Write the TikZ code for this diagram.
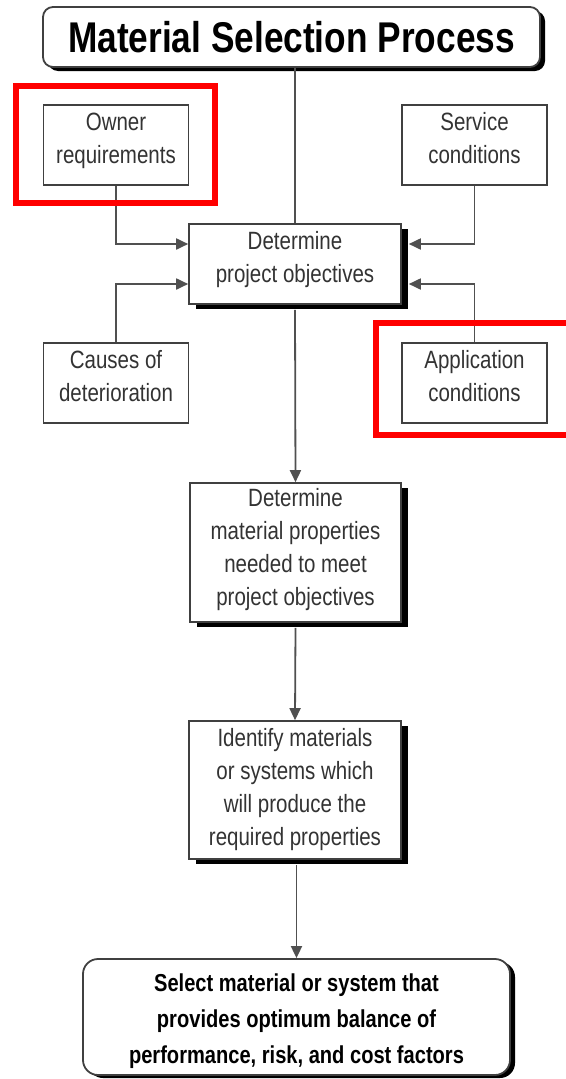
\documentclass[tikz,border=0pt]{standalone}
\usepackage{fontspec}
\setmainfont{Liberation Sans}[FakeStretch=0.82]
\usetikzlibrary{shadows,arrows.meta,calc}
\definecolor{txt}{HTML}{333333}
\definecolor{ln}{HTML}{404040}
\definecolor{cn}{HTML}{505050}
\definecolor{redmark}{HTML}{FF0000}
\newcommand\txtstack[2][0pt]{\raisebox{#1}[\height][\depth]{\begin{tabular}{@{}c@{}}#2\end{tabular}}}
\tikzset{
  sidebox/.style={draw=ln, line width=1.6pt, fill=white, align=center, text=txt,
    font=\fontsize{25}{33}\selectfont, inner sep=0pt, minimum width=145pt, minimum height=80pt},
  mainbox/.style={draw=ln, line width=1.6pt, fill=white, align=center, text=txt,
    font=\fontsize{25}{33}\selectfont, inner sep=0pt,
    drop shadow={shadow xshift=7pt, shadow yshift=-5pt, fill=black, opacity=1}},
  conn/.style={draw=cn, line width=1.8pt},
  arr/.style={conn, -{Triangle[length=12pt,width=11pt]}},
  redmarkbox/.style={draw=redmark, line width=6pt}
}
\begin{document}
\begin{tikzpicture}[x=1pt,y=-1pt]
\useasboundingbox (0,0) rectangle (565,1079);

% title
\node[draw=ln, line width=1.8pt, fill=white, rounded corners=10pt, inner sep=0pt,
      minimum width=497pt, minimum height=60pt,
      drop shadow={shadow xshift=5pt, shadow yshift=-4pt, fill=black, opacity=1},
      font=\fontsize{43}{50}\selectfont\bfseries] (title) at (291.5,37) {Material Selection Process};

% side boxes
\node[sidebox] (owner) at (116,145) {\txtstack[5pt]{Owner\\requirements}};
\node[sidebox] (service) at (474.5,145) {\txtstack[5pt]{Service\\conditions}};
\node[sidebox] (causes) at (116,383) {\txtstack[5pt]{Causes of\\deterioration}};
\node[sidebox] (app) at (474.5,383) {\txtstack[5pt]{Application\\conditions}};

% main boxes
\node[mainbox, minimum width=212pt, minimum height=80pt] (det) at (295,264) {\txtstack[5pt]{Determine\\project objectives}};
\node[mainbox, minimum width=211pt, minimum height=139pt] (props) at (295.5,552.5) {\txtstack[3pt]{Determine\\material properties\\needed to meet\\project objectives}};
\node[mainbox, minimum width=212pt, minimum height=138pt] (ident) at (295,790) {\txtstack[1pt]{Identify materials\\or systems which\\will produce the\\required properties}};
\node[draw=ln, line width=1.8pt, fill=white, rounded corners=15pt, inner sep=0pt,
      minimum width=427pt, minimum height=116pt, align=center,
      drop shadow={shadow xshift=5pt, shadow yshift=-3pt, fill=black, opacity=1},
      font=\fontsize{24.5}{36}\selectfont\bfseries] (final) at (296.5,1017)
      {\txtstack[-3pt]{Select material or system that\\provides optimum balance of\\performance, risk, and cost factors}};

% connectors
\draw[conn] (title.south -| det.north) -- (det.north);
\draw[arr] (owner.south) |- ([yshift=20pt]det.west);
\draw[arr] (causes.north) |- ([yshift=-20pt]det.west);
\draw[arr] (service.south) |- ([xshift=7pt,yshift=20pt]det.east);
\draw[arr] (app.north) |- ([xshift=7pt,yshift=-20pt]det.east);
\draw[arr] ([yshift=-5pt]det.south) -- (props.north);
\draw[arr] ([yshift=-5pt]props.south) -- (ident.north);
\draw[arr] ([yshift=-5pt]ident.south -| final.north) -- (final.north);

% red highlight marks
\draw[redmarkbox] (15.5,86) rectangle (215,202.5);
\draw[redmarkbox] (585,323) -| (375.5,435) -- (585,435);
\end{tikzpicture}
\end{document}
